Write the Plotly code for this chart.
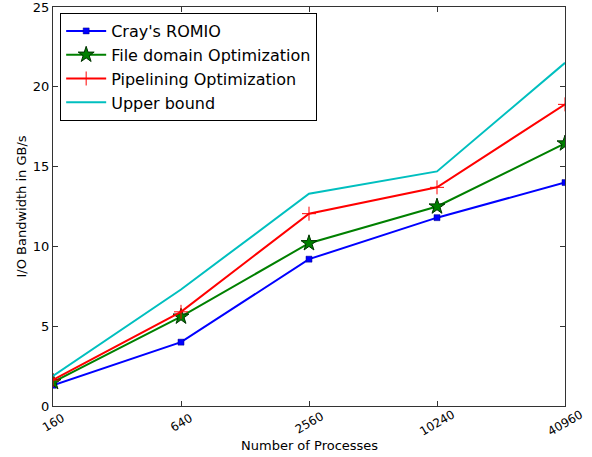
import math
import plotly.graph_objects as go

processes = [160, 640, 2560, 10240, 40960]
tick_labels = ["160", "640", "2560", "10240", "40960"]
y_ticks = [0, 5, 10, 15, 20, 25]
cray_romio = [1.3, 4.0, 9.2, 11.8, 14.0]
file_domain = [1.5, 5.6, 10.2, 12.5, 16.45]
pipelining = [1.63, 5.9, 12.05, 13.7, 18.9]
upper_bound = [1.88, 7.3, 13.3, 14.7, 21.5]

fig = go.Figure()
fig.add_trace(go.Scatter(x=processes, y=cray_romio, name="Cray's ROMIO", mode="lines+markers",
                         line=dict(color="#0000ff", width=2),
                         marker=dict(symbol="square", size=6, color="#0000ff",
                                     line=dict(color="#000080", width=0.5))))
fig.add_trace(go.Scatter(x=processes, y=file_domain, name="File domain Optimization", mode="lines+markers",
                         line=dict(color="#008000", width=2),
                         marker=dict(symbol="star", size=12, color="#008000",
                                     line=dict(color="#003300", width=1))))
fig.add_trace(go.Scatter(x=processes, y=pipelining, name="Pipelining Optimization", mode="lines+markers",
                         line=dict(color="#ff0000", width=2),
                         marker=dict(symbol="cross-thin", size=10, color="#ff0000",
                                     line=dict(color="#ff0000", width=1))))
fig.add_trace(go.Scatter(x=processes, y=upper_bound, name="Upper bound", mode="lines",
                         line=dict(color="#00bfbf", width=2)))

annotations = [dict(text="Number of Processes", xref="paper", yref="paper",
                    x=0.5, y=-0.1, xanchor="center", yanchor="middle",
                    showarrow=False, font=dict(size=13)),
               dict(text="I/O Bandwidth in GB/s", xref="paper", yref="paper",
                    x=-0.0625, y=0.5, xanchor="center", yanchor="middle", textangle=-90,
                    showarrow=False, font=dict(size=13))]
for p, lab in zip(processes, tick_labels):
    annotations.append(dict(text=lab, xref="x", yref="paper", x=math.log10(p), y=-0.042,
                            xanchor="center", yanchor="middle", textangle=-30,
                            showarrow=False, font=dict(size=12)))

fig.update_layout(
    width=592, height=457,
    margin=dict(l=53, r=27, t=7, b=51, autoexpand=False),
    paper_bgcolor="white", plot_bgcolor="white",
    font=dict(family="DejaVu Sans", color="black", size=13),
    showlegend=True,
    legend=dict(x=0.014, y=0.985, xanchor="left", yanchor="top",
                bordercolor="black", borderwidth=1, bgcolor="white",
                font=dict(size=16), tracegroupgap=0, itemwidth=40),
    xaxis=dict(type="log", range=[math.log10(160), math.log10(40960)],
               tickvals=processes, showticklabels=False,
               ticks="inside", ticklen=5, tickcolor="#333", showgrid=False, zeroline=False,
               showline=True, linecolor="#333", linewidth=1, mirror="ticks",
               automargin=False),
    yaxis=dict(range=[0, 25], tickvals=y_ticks,
               ticks="inside", ticklen=5, tickcolor="#333", showgrid=False, zeroline=False,
               showline=True, linecolor="#333", linewidth=1, mirror="ticks",
               automargin=False, ticklabeloverflow="allow",
               tickfont=dict(size=13)),
    annotations=annotations,
)
fig.write_html("out.html", post_script="document.body.style.margin='0px';",
               config={"displayModeBar": False})
